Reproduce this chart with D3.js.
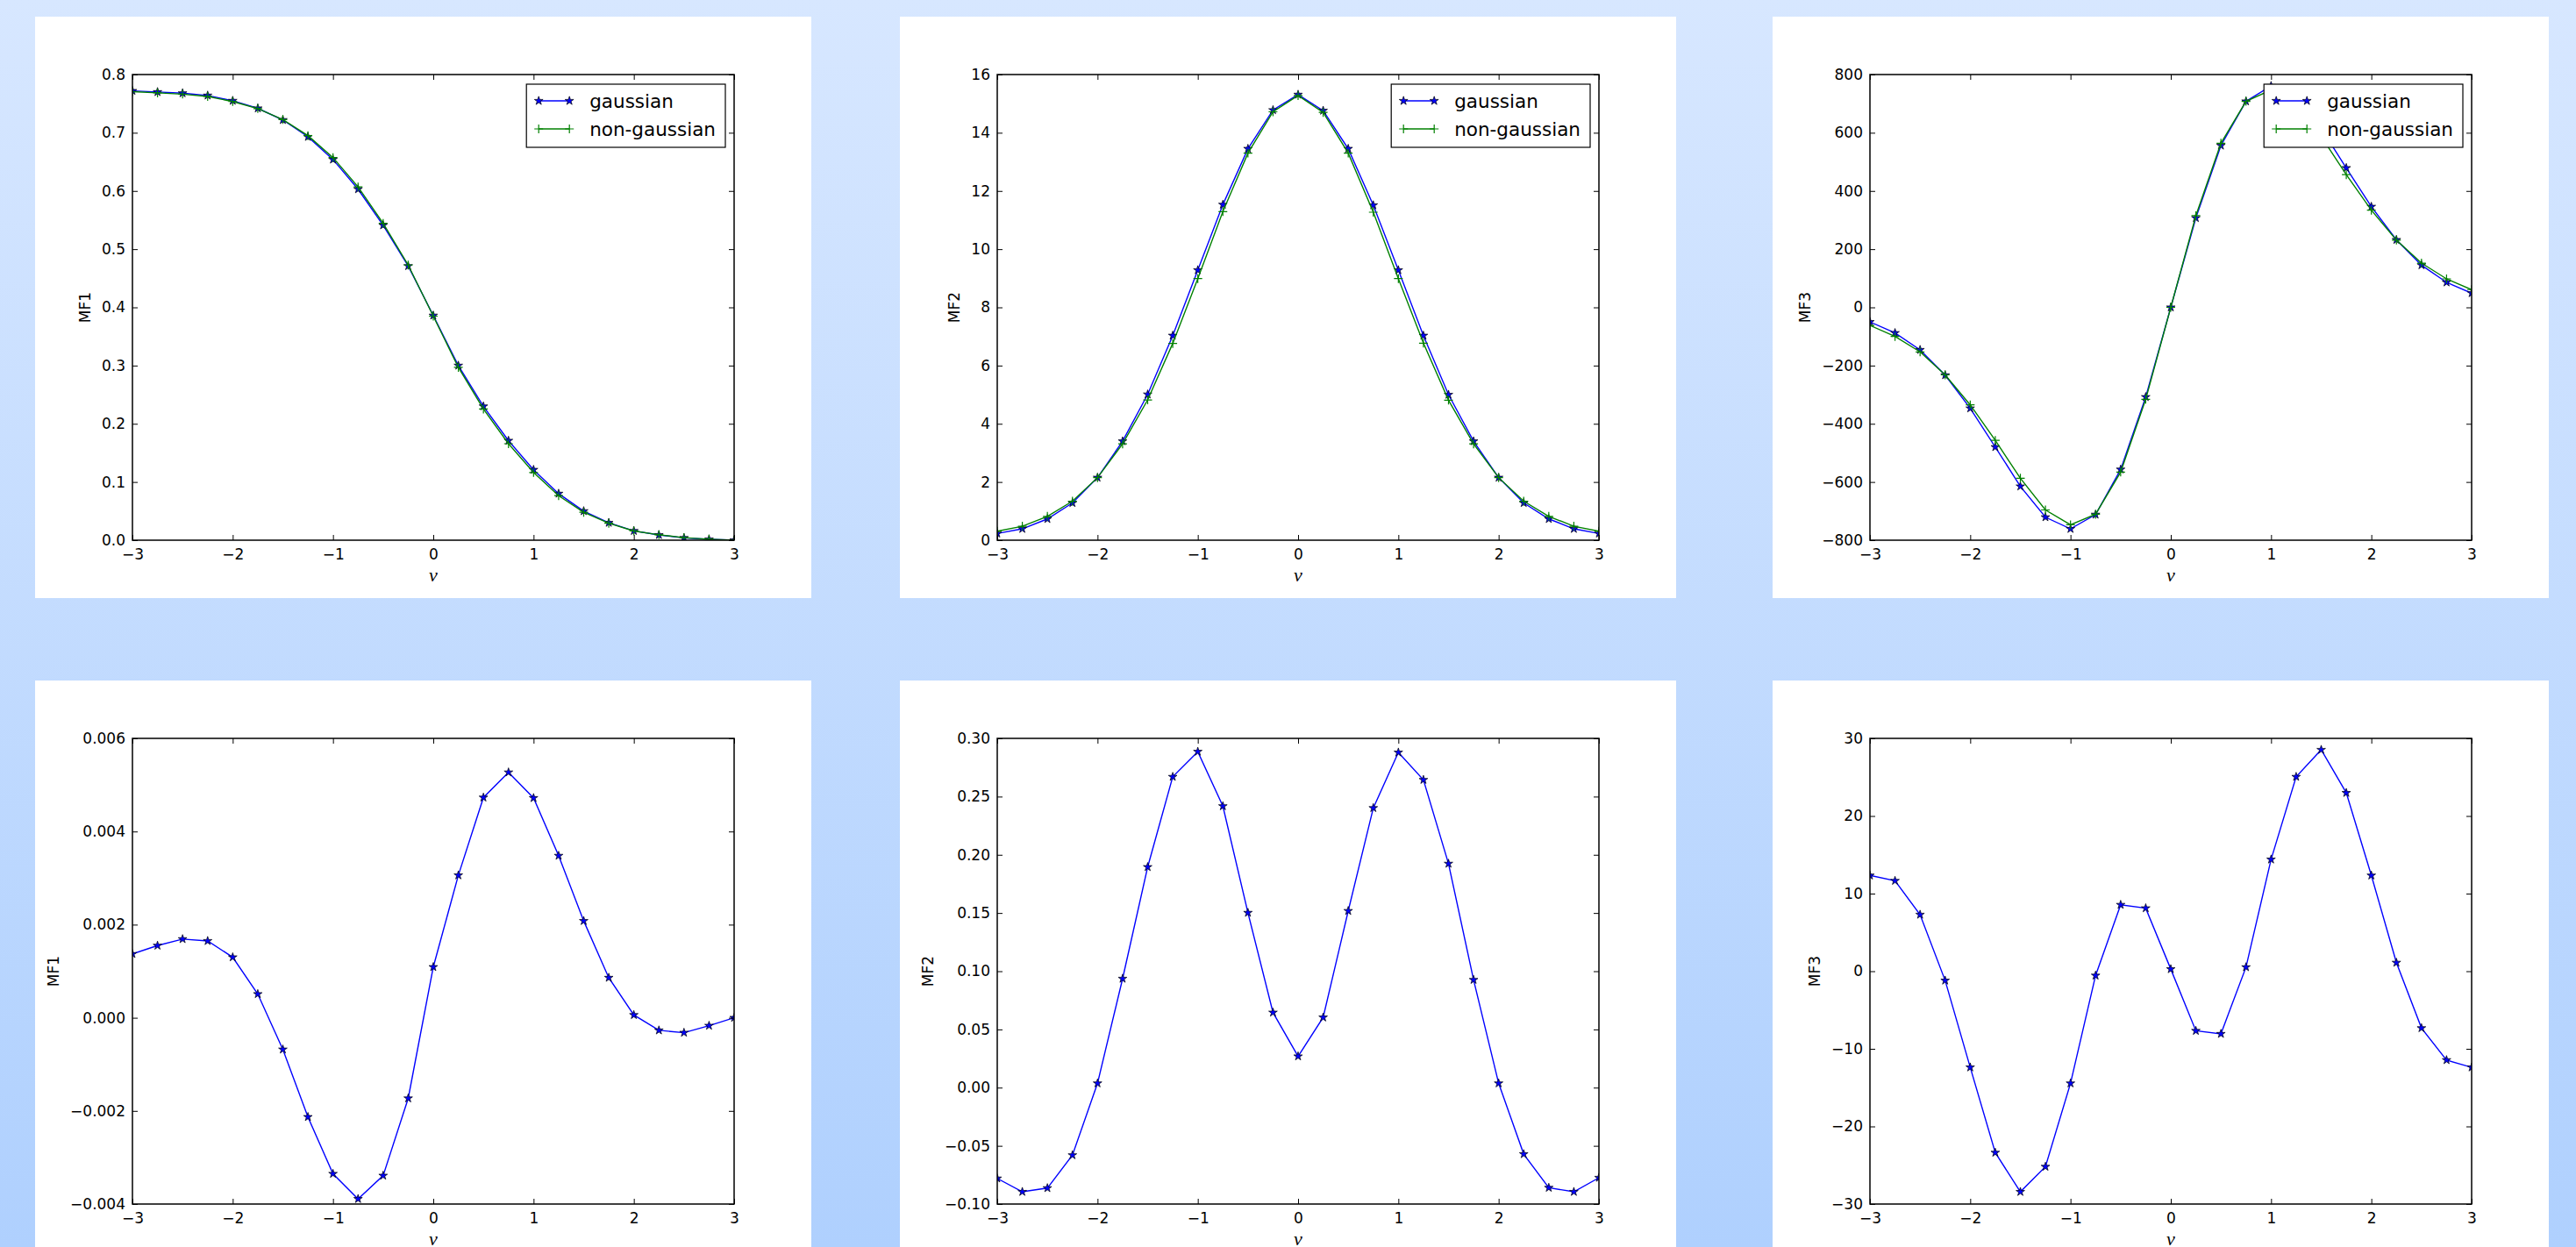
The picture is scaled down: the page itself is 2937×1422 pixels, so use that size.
<!DOCTYPE html>
<html>
<head>
<meta charset="utf-8">
<script src="https://cdn.jsdelivr.net/npm/d3@7"></script>
<style>
  html, body { margin: 0; padding: 0; overflow: hidden; }
  svg { display: block; font-family: "DejaVu Sans", sans-serif; }
</style>
</head>
<body>
<div id="chart"></div>
<script>
// threshold values nu
const nu = [-3, -2.75, -2.5, -2.25, -2, -1.75, -1.5, -1.25, -1, -0.75, -0.5, -0.25, 0,
  0.25, 0.5, 0.75, 1, 1.25, 1.5, 1.75, 2, 2.25, 2.5, 2.75, 3]

const mf1Gauss = [0.772, 0.770, 0.768, 0.764, 0.755, 0.742, 0.722, 0.693, 0.654, 0.603, 0.541, 0.471, 0.386,
  0.300, 0.230, 0.171, 0.121, 0.080, 0.050, 0.030, 0.016, 0.009, 0.004, 0.0015, 0.0]
const mf1NonGauss = [0.7706, 0.7685, 0.7663, 0.7624, 0.7537, 0.7415, 0.7227, 0.6951, 0.6574, 0.6069, 0.5444, 0.4727, 0.3849,
  0.2969, 0.2253, 0.1657, 0.1163, 0.0765, 0.0479, 0.0291, 0.0159, 0.0093, 0.0043, 0.0017, 0.0]
const mf1Diff = [0.00137, 0.00155, 0.00169, 0.00165, 0.00130, 0.00051, -0.00068, -0.00213, -0.00335, -0.00389, -0.00339, -0.00173, 0.00109,
  0.00306, 0.00473, 0.00527, 0.00472, 0.00348, 0.00208, 0.00086, 0.00006, -0.00027, -0.00032, -0.00017, 0.0]

const mf2Gauss = [0.23, 0.39, 0.73, 1.28, 2.15, 3.40, 5.01, 7.03, 9.28, 11.53, 13.45, 14.78, 15.31,
  14.76, 13.45, 11.51, 9.28, 7.03, 5.00, 3.40, 2.15, 1.28, 0.73, 0.39, 0.23]
const mf2NonGauss = [0.31, 0.48, 0.82, 1.34, 2.15, 3.31, 4.82, 6.76, 8.99, 11.29, 13.30, 14.72, 15.28,
  14.70, 13.30, 11.27, 8.99, 6.77, 4.81, 3.31, 2.15, 1.34, 0.82, 0.48, 0.31]
const mf2Diff = [-0.078, -0.0895, -0.0863, -0.058, 0.0037, 0.0936, 0.1895, 0.267, 0.2886, 0.2418, 0.1502, 0.0645, 0.0269,
  0.0603, 0.1518, 0.2402, 0.2879, 0.2644, 0.1924, 0.0926, 0.0037, -0.0571, -0.086, -0.0895, -0.0774]

const mf3Gauss = [-50, -88, -146, -233, -347, -480, -615, -721, -761, -712, -557, -308, 0,
  307, 556, 708, 761, 721, 615, 479, 346, 232, 145, 86, 49]
const mf3NonGauss = [-62, -100, -153, -232, -335, -457, -587, -696, -747, -711, -566, -316, 0,
  315, 564, 708, 747, 696, 587, 456, 334, 231, 152, 98, 61]
const mf3Diff = [12.34, 11.65, 7.29, -1.2, -12.39, -23.38, -28.43, -25.19, -14.45, -0.56, 8.56, 8.12, 0.27,
  -7.68, -8.07, 0.52, 14.4, 25.05, 28.53, 22.98, 12.34, 1.1, -7.33, -11.45, -12.39]

const xTicks = [-3, -2, -1, 0, 1, 2, 3]
const mf1Ticks = [0, 0.1, 0.2, 0.3, 0.4, 0.5, 0.6, 0.7, 0.8]
const mf2Ticks = [0, 2, 4, 6, 8, 10, 12, 14, 16]
const mf3Ticks = [-800, -600, -400, -200, 0, 200, 400, 600, 800]
const mf1DiffTicks = [-0.004, -0.002, 0, 0.002, 0.004, 0.006]
const mf2DiffTicks = [-0.10, -0.05, 0, 0.05, 0.10, 0.15, 0.20, 0.25, 0.30]
const mf3DiffTicks = [-30, -20, -10, 0, 10, 20, 30]

const seriesNames = ['gaussian', 'non-gaussian']

const W = 2937
const H = 1422
const boxW = 885
const boxH = 663
const ax = { left: 111, top: 66, width: 686, height: 531 }

const svg = d3.select('#chart').append('svg')
  .attr('width', W)
  .attr('height', H)

const defs = svg.append('defs')
const grad = defs.append('linearGradient')
  .attr('id', 'bg')
  .attr('x1', 0).attr('y1', 0).attr('x2', 0).attr('y2', 1)
grad.append('stop').attr('offset', '0%').attr('stop-color', '#d7e7ff')
grad.append('stop').attr('offset', '100%').attr('stop-color', '#afd0fe')

svg.append('rect')
  .attr('width', W)
  .attr('height', H)
  .attr('fill', 'url(#bg)')

const panels = [
  { x: 40, y: 19, label: 'MF1', domain: [0, 0.8], ticks: mf1Ticks, fmt: '.1f', lines: [mf1Gauss, mf1NonGauss] },
  { x: 1026, y: 19, label: 'MF2', domain: [0, 16], ticks: mf2Ticks, fmt: 'd', lines: [mf2Gauss, mf2NonGauss] },
  { x: 2021, y: 19, label: 'MF3', domain: [-800, 800], ticks: mf3Ticks, fmt: 'd', lines: [mf3Gauss, mf3NonGauss] },
  { x: 40, y: 776, label: 'MF1', domain: [-0.004, 0.006], ticks: mf1DiffTicks, fmt: '.3f', lines: [mf1Diff] },
  { x: 1026, y: 776, label: 'MF2', domain: [-0.10, 0.30], ticks: mf2DiffTicks, fmt: '.2f', lines: [mf2Diff] },
  { x: 2021, y: 776, label: 'MF3', domain: [-30, 30], ticks: mf3DiffTicks, fmt: 'd', lines: [mf3Diff] }
]

const colors = ['#0000ff', '#008000']
const star = d3.symbol().type(d3.symbolStar).size(30)

const drawMarkers = (sel, pts, i) => {
  if (i === 0) {
    sel.selectAll('path.star')
      .data(pts)
      .enter().append('path')
      .attr('class', 'star')
      .attr('transform', d => `translate(${d[0]},${d[1]})`)
      .attr('d', star)
      .attr('fill', colors[0])
      .attr('stroke', '#000')
      .attr('stroke-width', 0.7)
  } else {
    sel.selectAll('path.plus')
      .data(pts)
      .enter().append('path')
      .attr('class', 'plus')
      .attr('d', d => `M${d[0] - 5},${d[1]}H${d[0] + 5}M${d[0]},${d[1] - 5}V${d[1] + 5}`)
      .attr('stroke', colors[1])
      .attr('stroke-width', 1.2)
      .attr('fill', 'none')
  }
}

panels.forEach((p, pi) => {
  const g = svg.append('g').attr('transform', `translate(${p.x},${p.y})`)
  g.append('rect')
    .attr('width', boxW)
    .attr('height', boxH)
    .attr('fill', '#fff')

  const a = g.append('g').attr('transform', `translate(${ax.left},${ax.top})`)

  const x = d3.scaleLinear().domain([-3, 3]).range([0, ax.width])
  const y = d3.scaleLinear().domain(p.domain).range([ax.height, 0])

  defs.append('clipPath').attr('id', 'clip' + pi)
    .append('rect').attr('width', ax.width).attr('height', ax.height)

  const plot = a.append('g').attr('clip-path', `url(#clip${pi})`)
  const line = d3.line().x(d => d[0]).y(d => d[1])

  p.lines.forEach((vals, i) => {
    const pts = nu.map((v, k) => [x(v), y(vals[k])])
    plot.append('path')
      .datum(pts)
      .attr('d', line)
      .attr('fill', 'none')
      .attr('stroke', colors[i])
      .attr('stroke-width', 1.4)
    drawMarkers(plot.append('g'), pts, i)
  })

  const styleAxis = s => {
    s.select('.domain').remove()
    s.selectAll('line').attr('stroke', '#000').attr('stroke-width', 1)
    s.selectAll('text').attr('fill', '#000')
    s.attr('font-size', 17).attr('font-family', '"DejaVu Sans", sans-serif')
  }

  a.append('g')
    .attr('transform', `translate(0,${ax.height})`)
    .call(d3.axisBottom(x).tickValues(xTicks).tickSizeInner(-6).tickSizeOuter(0).tickPadding(10).tickFormat(d3.format('d')))
    .call(styleAxis)
  a.append('g')
    .call(d3.axisTop(x).tickValues(xTicks).tickSizeInner(-6).tickSizeOuter(0).tickFormat(''))
    .call(styleAxis)
  const yAxis = a.append('g')
    .call(d3.axisLeft(y).tickValues(p.ticks).tickSizeInner(-6).tickSizeOuter(0).tickPadding(8).tickFormat(d3.format(p.fmt)))
    .call(styleAxis)
  a.append('g')
    .attr('transform', `translate(${ax.width},0)`)
    .call(d3.axisRight(y).tickValues(p.ticks).tickSizeInner(-6).tickSizeOuter(0).tickFormat(''))
    .call(styleAxis)

  a.append('rect')
    .attr('width', ax.width)
    .attr('height', ax.height)
    .attr('fill', 'none')
    .attr('stroke', '#000')
    .attr('stroke-width', 1.5)

  const minX = d3.min(yAxis.selectAll('text').nodes(), n => n.getBBox().x)
  a.append('text')
    .attr('transform', `translate(${minX - 13},${ax.height / 2}) rotate(-90)`)
    .attr('text-anchor', 'middle')
    .attr('font-size', 17)
    .text(p.label)

  a.append('text')
    .attr('x', ax.width / 2)
    .attr('y', ax.height + 47)
    .attr('text-anchor', 'middle')
    .attr('font-family', '"Liberation Serif", serif')
    .attr('font-style', 'italic')
    .attr('font-size', 22)
    .text('ν')

  // legend only where both series are drawn
  if (p.lines.length === 2) {
    const lg = a.append('g')
    const box = lg.append('rect')
      .attr('y', 11)
      .attr('height', 72)
      .attr('fill', '#fff')
      .attr('stroke', '#000')
      .attr('stroke-width', 1.2)
    const texts = seriesNames.map((name, i) => lg.append('text')
      .attr('y', 11 + 19 + i * 32)
      .attr('dy', '0.35em')
      .attr('font-size', 21.5)
      .text(name))
    const tw = d3.max(texts, t => t.node().getComputedTextLength())
    const bw = 72 + tw + 11
    const bx = ax.width - 10 - bw
    box.attr('x', bx).attr('width', bw)
    texts.forEach(t => t.attr('x', bx + 72))
    seriesNames.forEach((name, i) => {
      const cy = 11 + 19 + i * 32
      const pts = [[bx + 14, cy], [bx + 49, cy]]
      lg.append('path')
        .datum(pts)
        .attr('d', line)
        .attr('stroke', colors[i])
        .attr('stroke-width', 1.4)
      drawMarkers(lg.append('g'), pts, i)
    })
  }
})
</script>
</body>
</html>
